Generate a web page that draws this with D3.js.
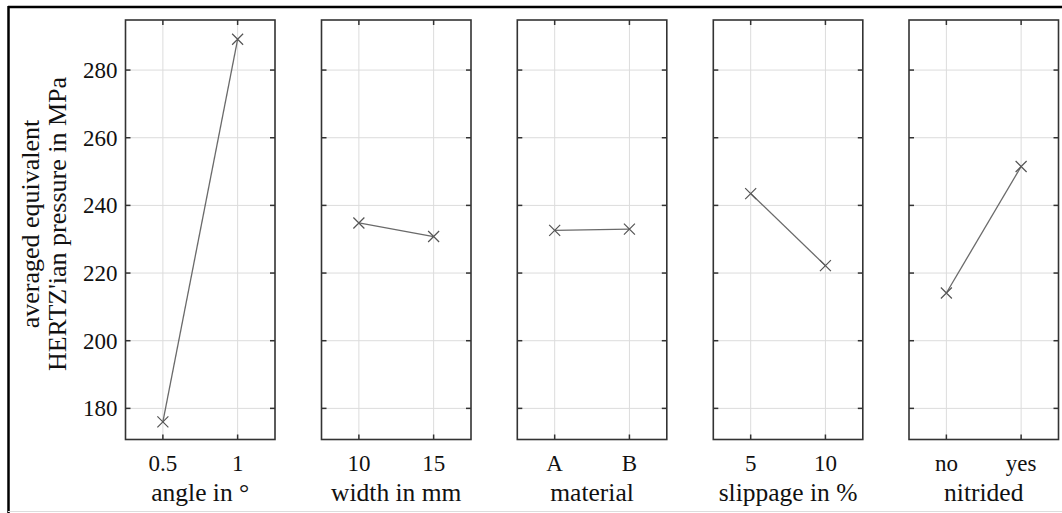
<!DOCTYPE html>
<html><head><meta charset="utf-8">
<script src="https://cdn.jsdelivr.net/npm/d3@7"></script>
<style>body{margin:0;background:#fff;} svg{display:block;}</style>
</head><body>
<script>
const factorLabels = ["angle in °", "width in mm", "material", "slippage in %", "nitrided"];
const levelLabels = [["0.5","1"],["10","15"],["A","B"],["5","10"],["no","yes"]];
const meanValues = [[176.0, 289.1],[234.8, 230.8],[232.6, 233.0],[243.5, 222.2],[214.1, 251.5]];
const yTicks = [180, 200, 220, 240, 260, 280];
const yLabelLines = ["averaged equivalent", "HERTZ'ian pressure in MPa"];

const W = 1062, H = 513;
const svg = d3.select("body").append("svg").attr("width", W).attr("height", H);
const font = "'Liberation Serif', 'Times New Roman', serif";

// outer frame (partly cropped)
svg.append("line").attr("x1",8).attr("x2",W).attr("y1",7).attr("y2",7).attr("stroke","#000").attr("stroke-width",2.5);
svg.append("line").attr("x1",8.5).attr("x2",8.5).attr("y1",6).attr("y2",H).attr("stroke","#000").attr("stroke-width",2.5);
svg.append("line").attr("x1",8).attr("x2",W).attr("y1",511.5).attr("y2",511.5).attr("stroke","#ddd").attr("stroke-width",1);

const pTop = 20, pBottom = 439.5, pw = 149.5;
const lefts = [125.5, 321.5, 517.3, 713.3, 909];
const y = d3.scaleLinear().domain([170.8, 294.8]).range([pBottom, pTop]);

factorLabels.forEach((lab, i) => {
  const x0 = lefts[i];
  const x = d3.scalePoint().domain(levelLabels[i]).range([x0, x0 + pw]).padding(0.5);
  const g = svg.append("g");
  // grid
  g.selectAll(".gy").data(yTicks).enter().append("line")
    .attr("x1", x0).attr("x2", x0 + pw).attr("y1", d => y(d)).attr("y2", d => y(d))
    .attr("stroke", "#dcdcdc").attr("stroke-width", 1);
  g.selectAll(".gx").data(levelLabels[i]).enter().append("line")
    .attr("x1", d => x(d)).attr("x2", d => x(d)).attr("y1", pTop).attr("y2", pBottom)
    .attr("stroke", "#dcdcdc").attr("stroke-width", 1);
  // ticks inward
  const tl = 5;
  g.selectAll(".tl").data(yTicks).enter().append("line")
    .attr("x1", x0).attr("x2", x0 + tl).attr("y1", d => y(d)).attr("y2", d => y(d))
    .attr("stroke", "#333").attr("stroke-width", 1.5);
  g.selectAll(".tr").data(yTicks).enter().append("line")
    .attr("x1", x0 + pw - tl).attr("x2", x0 + pw).attr("y1", d => y(d)).attr("y2", d => y(d))
    .attr("stroke", "#333").attr("stroke-width", 1.5);
  g.selectAll(".tt").data(levelLabels[i]).enter().append("line")
    .attr("x1", d => x(d)).attr("x2", d => x(d)).attr("y1", pTop).attr("y2", pTop + tl)
    .attr("stroke", "#333").attr("stroke-width", 1.5);
  g.selectAll(".tb").data(levelLabels[i]).enter().append("line")
    .attr("x1", d => x(d)).attr("x2", d => x(d)).attr("y1", pBottom - tl).attr("y2", pBottom)
    .attr("stroke", "#333").attr("stroke-width", 1.5);
  // frame
  g.append("rect").attr("x", x0).attr("y", pTop).attr("width", pw).attr("height", pBottom - pTop)
    .attr("fill", "none").attr("stroke", "#333").attr("stroke-width", 1.6);
  // data line
  const pts = levelLabels[i].map((d, j) => [x(d), y(meanValues[i][j])]);
  g.append("path").attr("d", d3.line()(pts)).attr("fill", "none").attr("stroke", "#6a6a6a").attr("stroke-width", 1.3);
  const s = 5.5;
  pts.forEach(p => {
    g.append("path").attr("d", `M${p[0]-s},${p[1]-s}L${p[0]+s},${p[1]+s}M${p[0]-s},${p[1]+s}L${p[0]+s},${p[1]-s}`)
      .attr("stroke", "#555").attr("stroke-width", 1.2).attr("fill", "none");
  });
  // x tick labels
  g.selectAll(".xl").data(levelLabels[i]).enter().append("text")
    .attr("x", d => x(d)).attr("y", 471).attr("text-anchor", "middle")
    .attr("font-family", font).attr("font-size", 23).attr("fill", "#111").text(d => d);
  g.append("text").attr("x", x0 + pw / 2).attr("y", 501).attr("text-anchor", "middle")
    .attr("font-family", font).attr("font-size", 25.5).attr("fill", "#111").text(lab);
  if (i === 0) {
    g.selectAll(".yl").data(yTicks).enter().append("text")
      .attr("x", x0 - 8).attr("y", d => y(d)).attr("dy", "0.35em").attr("text-anchor", "end")
      .attr("font-family", font).attr("font-size", 23).attr("fill", "#111").text(d => d);
  }
});

const yl = svg.append("text").attr("transform", "translate(0,224) rotate(-90)")
  .attr("text-anchor", "middle").attr("font-family", font).attr("font-size", 26).attr("fill", "#111");
yLabelLines.forEach((t, k) => {
  yl.append("tspan").attr("x", 0).attr("y", 39 + k * 27).text(t);
});
</script>
</body></html>
